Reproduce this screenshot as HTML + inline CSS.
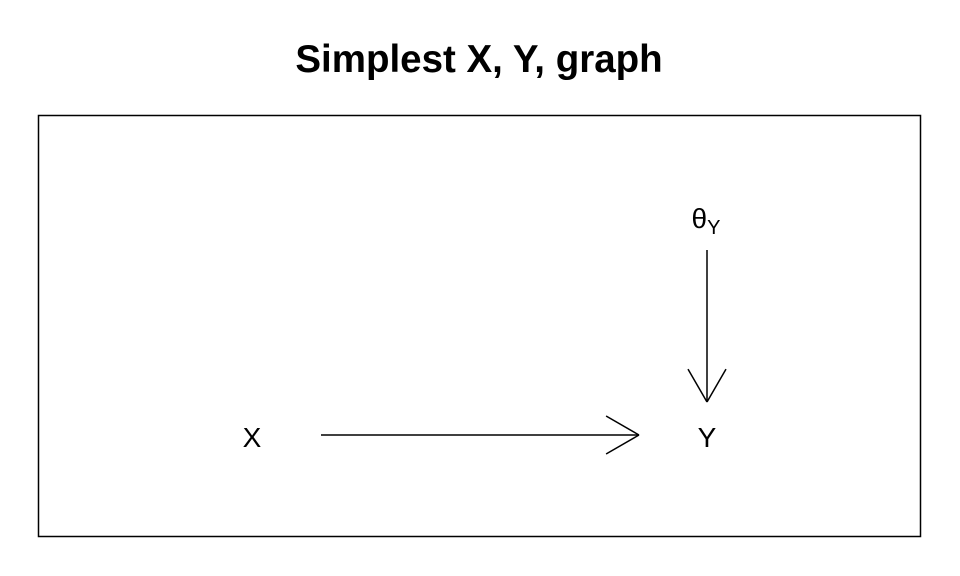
<!DOCTYPE html>
<html>
<head>
<meta charset="utf-8">
<style>
  html,body{margin:0;padding:0;background:#fff;}
  svg{display:block;}
  text{font-family:"Liberation Sans",sans-serif;fill:#000;}
</style>
</head>
<body>
<svg id="chart" width="960" height="576" viewBox="0 0 960 576">
  <text x="479" y="72" text-anchor="middle" font-size="38.5" font-weight="bold">Simplest X, Y, graph</text>
  <rect x="38.5" y="115.5" width="882" height="421" fill="none" stroke="#000" stroke-width="1.5"/>
  <g id="edges"></g>
  <g id="nodes"></g>
</svg>
<script>
// Node data (data coordinates)
const nodeNames = ["X", "Y", "θ"];
const nodeSubs = ["", "", "Y"];
const nodeX = [0, 1, 1];
const nodeY = [0, 0, 1];
// Edges: from index -> to index
const edgeFrom = [0, 2];
const edgeTo = [1, 1];

const sx = v => 252 + v * 455;
const sy = v => 437 - v * 219;
const ns = "http://www.w3.org/2000/svg";
const nodesG = document.getElementById('nodes');
const edgesG = document.getElementById('edges');

nodeNames.forEach((n, i) => {
  const t = document.createElementNS(ns, 'text');
  
  
  t.setAttribute('x', sx(nodeX[i]) - (nodeSubs[i] ? 1 : 0));
  t.setAttribute('y', sy(nodeY[i]) + 10);
  t.setAttribute('text-anchor', 'middle');
  t.setAttribute('font-size', '28');
  t.textContent = n;
  if (nodeSubs[i]) {
    const s = document.createElementNS(ns, 'tspan');
    s.setAttribute('font-size', '20');
    s.setAttribute('dy', '6');
    s.textContent = nodeSubs[i];
    t.appendChild(s);
  }
  nodesG.appendChild(t);
});

function line(x1, y1, x2, y2, name) {
  const l = document.createElementNS(ns, 'line');
  
  
  l.setAttribute('x1', x1); l.setAttribute('y1', y1);
  l.setAttribute('x2', x2); l.setAttribute('y2', y2);
  l.setAttribute('stroke', '#000'); l.setAttribute('stroke-width', '1.5');
  edgesG.appendChild(l);
}

edgeFrom.forEach((f, i) => {
  const t = edgeTo[i];
  const x1 = sx(nodeX[f]), y1 = sy(nodeY[f]);
  const x2 = sx(nodeX[t]), y2 = sy(nodeY[t]);
  const dx = x2 - x1, dy = y2 - y1, len = Math.hypot(dx, dy);
  const ux = dx / len, uy = dy / len;
  const startGap = nodeY[f] === nodeY[t] ? 69 : 32;
  const endGap = nodeY[f] === nodeY[t] ? 68 : 35;
  const ax = x1 + ux * startGap, ay = y1 + uy * startGap - (nodeY[f] === nodeY[t] ? 2 : 0);
  const bx = x2 - ux * endGap, by = y2 - uy * endGap - (nodeY[f] === nodeY[t] ? 2 : 0);
  line(ax, ay, bx, by, 'edge-' + f + '-' + t);
  const hl = 38, ang = Math.PI / 6;
  const base = Math.atan2(uy, ux);
  [base + Math.PI - ang, base + Math.PI + ang].forEach((a, k) => {
    line(bx, by, bx + Math.cos(a) * hl, by + Math.sin(a) * hl, 'arrowhead-' + f + '-' + t + '-' + k);
  });
});
</script>
</body>
</html>
